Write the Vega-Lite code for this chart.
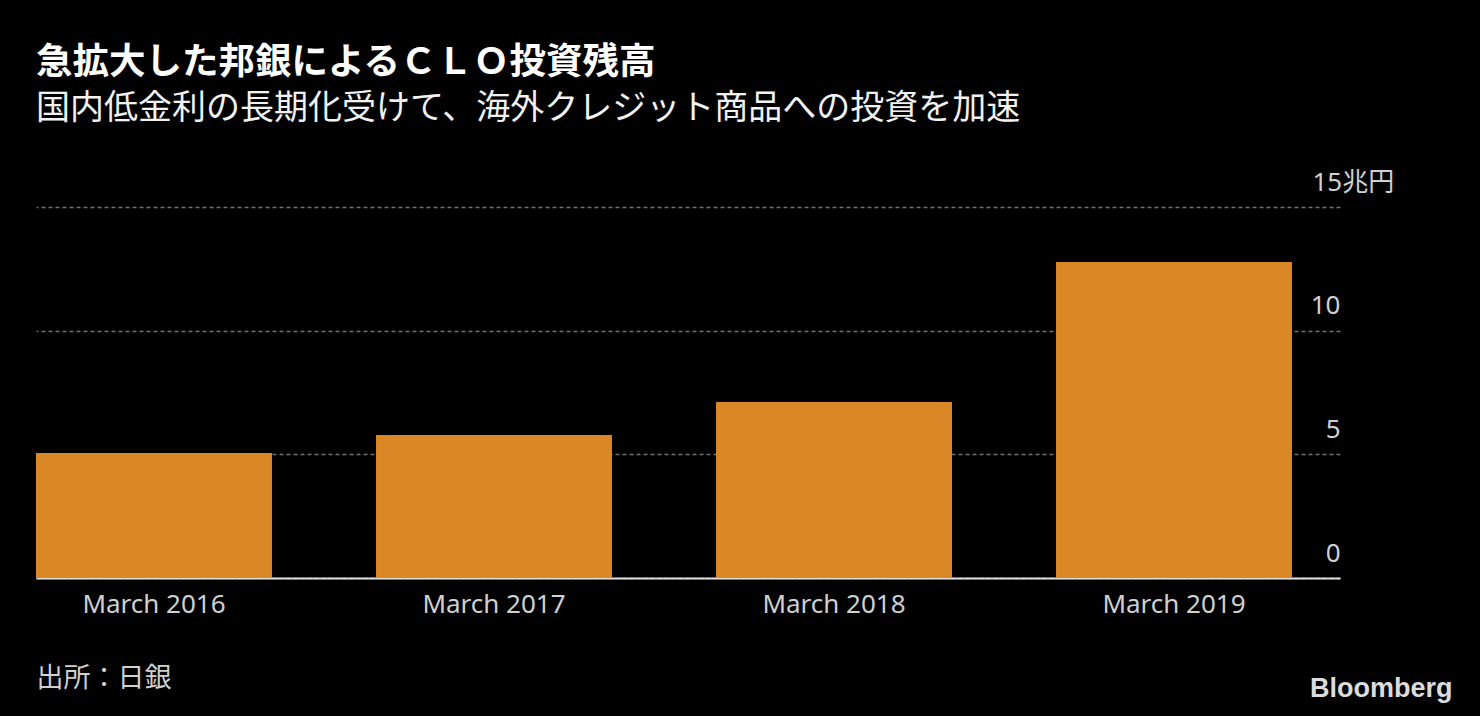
{
  "$schema": "https://vega.github.io/schema/vega-lite/v6.json",
  "width": 1304,
  "height": 371,
  "autosize": "none",
  "padding": {"left": 36, "top": 207, "right": 140, "bottom": 138},
  "background": "#000000",
  "config": {"view": {"stroke": null}},
  "title": {
    "text": "急拡大した邦銀によるＣＬＯ投資残高",
    "subtitle": "国内低金利の長期化受けて、海外クレジット商品への投資を加速",
    "anchor": "start",
    "frame": "group",
    "offset": 43,
    "font": "Noto Sans CJK JP",
    "fontSize": 36.5,
    "fontWeight": "bold",
    "color": "#ffffff",
    "subtitleFont": "Noto Sans CJK JP",
    "subtitleFontSize": 34,
    "subtitleFontWeight": "normal",
    "subtitleColor": "#f2f2f2",
    "subtitlePadding": 11
  },
  "data": {
    "values": [
      {"date": "March 2016", "value": 5.05},
      {"date": "March 2017", "value": 5.78},
      {"date": "March 2018", "value": 7.12},
      {"date": "March 2019", "value": 12.78}
    ]
  },
  "mark": {"type": "bar", "color": "#DA8825"},
  "encoding": {
    "x": {
      "field": "date",
      "type": "ordinal",
      "sort": null,
      "scale": {"paddingInner": 0.306, "paddingOuter": 0.0706, "align": 0},
      "axis": {
        "title": "出所：日銀",
        "labelAngle": 0,
        "labelFont": "Noto Sans",
        "labelFontSize": 26,
        "labelColor": "#d0d0d0",
        "labelPadding": 13,
        "ticks": false,
        "domainColor": "#e0e0e0",
        "domainWidth": 2,
        "titleAnchor": "start",
        "titleAlign": "left",
        "titleBaseline": "top",
        "titleX": 0,
        "titleY": 87,
        "titleFont": "Noto Sans CJK JP",
        "titleFontSize": 27,
        "titleFontWeight": "normal",
        "titleColor": "#d0d0d0"
      }
    },
    "y": {
      "field": "value",
      "type": "quantitative",
      "scale": {"domain": [0, 15], "nice": false},
      "axis": {
        "orient": "right",
        "values": [0, 5, 10, 15],
        "labelExpr": "datum.value == 15 ? '15兆円' : datum.label",
        "domain": false,
        "ticks": false,
        "grid": true,
        "gridColor": "#707070",
        "gridDash": [4, 3],
        "gridWidth": 1.5,
        "labelAlign": {"condition": {"test": "datum.value == 15", "value": "left"}, "value": "right"},
        "labelPadding": {"condition": {"test": "datum.value == 15", "value": -28}, "value": 0},
        "labelBaseline": "alphabetic",
        "labelOffset": -17,
        "labelFont": "Noto Sans, Noto Sans CJK JP",
        "labelFontSize": 26,
        "labelColor": "#d0d0d0",
        "title": "Bloomberg",
        "titleAngle": 0,
        "titleAlign": "right",
        "titleBaseline": "alphabetic",
        "titleX": 112,
        "titleY": 489,
        "titleFont": "Liberation Sans",
        "titleFontSize": 27,
        "titleFontWeight": "bold",
        "titleColor": "#dcdcdc"
      }
    }
  }
}
